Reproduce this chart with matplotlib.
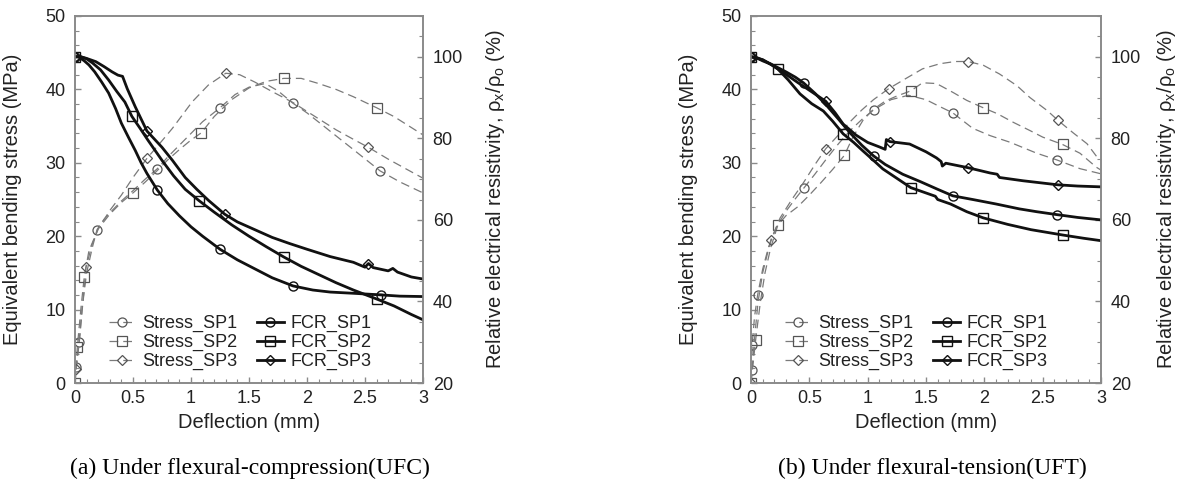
import numpy as np
import matplotlib
matplotlib.use('Agg')
import matplotlib.pyplot as plt
from matplotlib.ticker import MultipleLocator

plt.rcParams['font.family'] = ['Liberation Sans', 'DejaVu Sans']
plt.rcParams['mathtext.default'] = 'regular'

# ---------------- (a) UFC ----------------
# stress (MPa), dashed
ufc_s1_x = [0, 0.01, 0.035, 0.06, 0.1, 0.15, 0.19, 0.25, 0.32, 0.4, 0.5, 0.6, 0.71, 0.8, 0.9, 1.0, 1.1, 1.25, 1.38, 1.5,
            1.64, 1.75, 1.88, 2.0, 2.2, 2.4, 2.63, 2.8, 3.0]
ufc_s1_y = [0, 2.2, 5.6, 10, 15, 18.5, 20.9, 22.3, 23.5, 24.8, 26.2, 27.7, 29.2, 30.8, 32.4, 34, 35.6, 37.5, 39.3, 40.3,
            40.8, 39.8, 38.1, 36.8, 34.3, 31.8, 28.9, 27.4, 25.9]
ufc_s2_x = [0, 0.02, 0.05, 0.08, 0.12, 0.2, 0.3, 0.4, 0.5, 0.6, 0.7, 0.8, 0.9, 1.0, 1.09, 1.2, 1.35, 1.5, 1.65, 1.8,
            1.95, 2.1, 2.25, 2.4, 2.6, 2.75, 2.88, 3.0]
ufc_s2_y = [0, 4.9, 10, 14.5, 18, 21, 23, 24.6, 25.9, 27.3, 28.8, 30.4, 31.8, 33.1, 34.1, 36.3, 38.6, 40.2, 41.1, 41.5,
            41.5, 40.8, 40, 39, 37.5, 36.3, 35, 33.8]
ufc_s3_x = [0, 0.01, 0.04, 0.095, 0.15, 0.2, 0.3, 0.4, 0.5, 0.62, 0.75, 0.84, 1.01, 1.15, 1.3, 1.42, 1.55, 1.7, 1.88, 2.05,
            2.25, 2.4, 2.53, 2.7, 2.85, 3.0]
ufc_s3_y = [0, 1.9, 6, 15.8, 19, 21, 23.5, 25.6, 28, 30.6, 33, 34.7, 38.3, 40.6, 42.2, 42, 41, 39.7, 38.2, 36.5,
            34.5, 33.2, 32.1, 30.5, 29.2, 27.9]
# resistivity (%), solid
ufc_f1_x = [0, 0.03, 0.08, 0.12, 0.17, 0.23, 0.29, 0.35, 0.4, 0.46, 0.52, 0.57, 0.62, 0.71, 0.8, 0.9, 1.0, 1.1, 1.25, 1.4,
            1.55, 1.7, 1.88, 2.05, 2.2, 2.4, 2.64, 2.8, 3.0]
ufc_f1_y = [100, 100, 99, 98, 96.3, 93.8, 91.1, 87.3, 83.7, 80.3, 77, 74, 71.4, 67.3, 64, 61, 58.3, 56, 52.8, 50.2,
            48, 45.8, 43.8, 42.8, 42.3, 42, 41.6, 41.3, 41.2]
ufc_f2_x = [0, 0.05, 0.1, 0.15, 0.22, 0.29, 0.36, 0.43, 0.49, 0.56, 0.63, 0.75, 0.85, 0.95, 1.07, 1.2, 1.35, 1.5, 1.65, 1.8,
            1.95, 2.1, 2.25, 2.4, 2.6, 2.75, 2.9, 3.0]
ufc_f2_y = [100, 100, 99.5, 98.5, 96.8, 94.3, 91.5, 88.9, 85.4, 82.5, 79.5, 74.6, 70.8, 67.5, 64.7, 61.9, 58.8, 56, 53.4, 50.9,
            48.6, 46.6, 44.6, 42.8, 40.6, 38.9, 36.8, 35.5]
ufc_f3_x = [0, 0.05, 0.1, 0.18, 0.25, 0.32, 0.37, 0.41, 0.45, 0.52, 0.62, 0.75, 0.84, 0.95, 1.05, 1.15, 1.29, 1.4, 1.55, 1.7,
            1.85, 2.0, 2.2, 2.4, 2.5, 2.53, 2.57, 2.7, 2.74, 2.78, 2.9, 3.0]
ufc_f3_y = [100, 100, 99.6, 98.8, 97.6, 96.3, 95.5, 95.2, 92.2, 87.7, 81.8, 77.8, 74.6, 70.4, 67.5, 64.8, 61.4, 59.5, 57.6, 55.7,
            54.2, 52.8, 51, 49.6, 48.4, 49.3, 48.3, 47.5, 48.1, 47.2, 46, 45.5]

# ---------------- (b) UFT ----------------
uft_s1_x = [0, 0.005, 0.01, 0.03, 0.057, 0.1, 0.15, 0.22, 0.3, 0.38, 0.45, 0.55, 0.65, 0.75, 0.85, 0.95, 1.05, 1.2, 1.35, 1.5,
            1.6, 1.73, 1.9, 2.05, 2.22, 2.45, 2.62, 2.82, 3.0]
uft_s1_y = [0, 1.8, 5.2, 9, 12, 15.5, 18.5, 21.3, 23.4, 25.1, 26.5, 28.5, 30.6, 32.6, 34.4, 35.9, 37.2, 38.6, 39.2, 38.6,
            37.8, 36.8, 34.7, 33.7, 32.8, 31.3, 30.4, 29.2, 28.5]
uft_s2_x = [0, 0.04, 0.08, 0.12, 0.17, 0.23, 0.3, 0.4, 0.5, 0.6, 0.7, 0.8, 0.87, 0.96, 1.05, 1.15, 1.25, 1.37, 1.47, 1.59,
            1.73, 1.85, 1.99, 2.11, 2.25, 2.39, 2.5, 2.67, 2.82, 2.96, 3.0]
uft_s2_y = [0, 5.9, 11, 15, 18.5, 21.5, 22.8, 24, 25.6, 27.3, 29.1, 31.0, 33.4, 35.8, 37.3, 38.4, 39.1, 39.8, 40.9, 40.8,
            39.6, 38.5, 37.5, 36.7, 35.5, 34.4, 33.5, 32.5, 31.3, 29.4, 29.0]
uft_s3_x = [0, 0.01, 0.03, 0.06, 0.1, 0.17, 0.25, 0.35, 0.45, 0.55, 0.64, 0.75, 0.85, 0.95, 1.05, 1.18, 1.34, 1.47, 1.62, 1.75,
            1.86, 1.99, 2.13, 2.28, 2.39, 2.54, 2.63, 2.76, 2.88, 2.97, 3.0]
uft_s3_y = [0, 2, 6, 11, 15, 19.5, 22.5, 25, 27.3, 29.8, 31.9, 33.8, 35.6, 37.2, 38.6, 40.1, 41.6, 42.8, 43.5, 43.8,
            43.8, 43.3, 42.1, 40.5, 38.9, 37.1, 35.8, 34.1, 32.6, 30.7, 30.4]
uft_f1_x = [0, 0.05, 0.1, 0.2, 0.3, 0.38, 0.45, 0.55, 0.65, 0.75, 0.85, 0.95, 1.05, 1.15, 1.3, 1.45, 1.6, 1.73, 1.9, 2.1,
            2.3, 2.45, 2.62, 2.8, 3.0]
uft_f1_y = [100, 99.8, 99.2, 97.8, 96.3, 95, 93.6, 91, 88, 84.7, 81.3, 78.3, 75.7, 73.6, 71.2, 69.4, 67.5, 65.9, 65, 63.9,
            62.7, 62, 61.3, 60.6, 60]
uft_f2_x = [0, 0.05, 0.1, 0.17, 0.23, 0.32, 0.42, 0.52, 0.62, 0.7, 0.79, 0.88, 0.96, 1.05, 1.13, 1.25, 1.37, 1.5, 1.58, 1.6,
            1.71, 1.85, 1.99, 2.2, 2.4, 2.67, 2.85, 3.0]
uft_f2_y = [100, 99.7, 99, 98.2, 97, 94.3, 90.9, 88.5, 86.7, 84.2, 81.1, 79, 76.9, 74.6, 72.5, 70.2, 67.9, 66.6, 65.8, 65,
            63.9, 62, 60.5, 58.9, 57.6, 56.3, 55.5, 54.9]
uft_f3_x = [0, 0.1, 0.2, 0.3, 0.4, 0.5, 0.64, 0.72, 0.79, 0.9, 1.0, 1.1, 1.15, 1.16, 1.19, 1.36, 1.5, 1.59, 1.63, 1.64,
            1.67, 1.86, 2.05, 2.11, 2.13, 2.33, 2.63, 2.8, 3.0]
uft_f3_y = [100, 99.3, 97.6, 95.7, 93.7, 91.8, 89.1, 86.3, 83.5, 80.8, 79, 77.9, 77.3, 79.7, 79.2, 78.6, 76.7, 75.2, 74.3, 73.2,
            73.9, 72.8, 71.5, 71.2, 70.4, 69.6, 68.6, 68.3, 68.1]

# where the symbols sit along each curve (deflection, mm)
ufc_marks = {
    's1': [0.01, 0.035, 0.19, 0.71, 1.25, 1.88, 2.63],
    's2': [0, 0.02, 0.08, 0.5, 1.09, 1.8, 2.6],
    's3': [0.01, 0.095, 0.62, 1.3, 2.53],
    'f1': [0, 0.71, 1.25, 1.88, 2.64],
    'f2': [0, 0.49, 1.07, 1.8, 2.6],
    'f3': [0, 0.62, 1.29, 2.53],
}
uft_marks = {
    's1': [0.005, 0.01, 0.057, 0.45, 1.05, 1.73, 2.62],
    's2': [0, 0.04, 0.23, 0.8, 1.37, 1.99, 2.67],
    's3': [0, 0.17, 0.64, 1.18, 1.86, 2.63],
    'f1': [0, 0.45, 1.05, 1.73, 2.62],
    'f2': [0, 0.23, 0.79, 1.37, 1.99, 2.67],
    'f3': [0, 0.64, 1.19, 1.86, 2.63],
}

labels = ['Stress_SP1', 'Stress_SP2', 'Stress_SP3', 'FCR_SP1', 'FCR_SP2', 'FCR_SP3']
symbols = ['o', 's', 'D']
msizes = [6.5, 6.5, 5.5]

SPINE = '#8a8a8a'
TXT = '#222222'


def idx(x, at):
    x = np.asarray(x)
    return [int(np.argmin(np.abs(x - a))) for a in at]


def panel(ax, stress, fcr, marks, rlabel_x):
    ax2 = ax.twinx()
    handles = []
    for i, (x, y) in enumerate(stress):
        h, = ax.plot(x, y, color='#7a7a7a', lw=0.9, dashes=(7, 4),
                     marker=symbols[i], ms=msizes[i], mfc='none', mec='#555555', mew=0.9,
                     markevery=idx(x, marks['s%d' % (i + 1)]), label=labels[i])
        handles.append(h)
    for i, (x, y) in enumerate(fcr):
        h, = ax2.plot(x, y, color='#111111', lw=2.0,
                      marker=symbols[i], ms=msizes[i], mfc='none', mec='#111111', mew=1.0,
                      markevery=idx(x, marks['f%d' % (i + 1)]), label=labels[3 + i])
        handles.append(h)

    ax.set_xlim(0, 3)
    ax.set_ylim(0, 50)
    ax2.set_ylim(20, 110)
    ax.xaxis.set_major_locator(MultipleLocator(0.5))
    ax.xaxis.set_minor_locator(MultipleLocator(0.1))
    ax.yaxis.set_major_locator(MultipleLocator(10))
    ax.yaxis.set_minor_locator(MultipleLocator(2))
    ax2.yaxis.set_major_locator(MultipleLocator(20))
    ax2.yaxis.set_minor_locator(MultipleLocator(5))
    ax.set_xticks([0, 0.5, 1, 1.5, 2, 2.5, 3])
    ax.set_xticklabels(['0', '0.5', '1', '1.5', '2', '2.5', '3'])
    ax2.set_yticks([20, 40, 60, 80, 100])

    for a in (ax, ax2):
        for s in a.spines.values():
            s.set_color(SPINE)
            s.set_linewidth(1.2)
    ax.tick_params(which='both', direction='in', color=SPINE, labelcolor=TXT, labelsize=13,
                   top=False, right=False)
    ax.tick_params(which='major', length=4, width=1)
    ax.tick_params(which='minor', length=3, width=0.8)
    ax.tick_params(axis='y', pad=7)
    ax.tick_params(axis='x', pad=5)
    ax2.tick_params(which='both', direction='in', color=SPINE, labelcolor=TXT, labelsize=13, pad=7)
    ax2.tick_params(which='major', length=4, width=1)
    ax2.tick_params(which='minor', length=3, width=0.8)

    ax.set_xlabel('Deflection (mm)', fontsize=14.5, color=TXT, labelpad=4)
    ax.set_ylabel('Equivalent bending stress (MPa)', fontsize=14.5, color=TXT)
    ax.yaxis.set_label_coords(-0.152, 0.5)
    ax2.set_ylabel('Relative electrical resistivity, ρ$_x$/ρ$_o$ (%)', fontsize=14.5, color=TXT,
                   rotation=90)
    ax2.yaxis.set_label_coords(rlabel_x, 0.5)

    ax2.legend(handles, labels, ncol=2, loc='lower left', bbox_to_anchor=(0.06, 0.0),
               frameon=False, fontsize=13, handlelength=1.5, handletextpad=0.35,
               columnspacing=1.1, labelspacing=0.1, borderaxespad=0.3,
               labelcolor=TXT)
    return ax2


fig = plt.figure(figsize=(11.81, 4.84), dpi=100)
ax_a = fig.add_axes([75 / 1181, 101 / 484, 348 / 1181, 367 / 484])
ax_b = fig.add_axes([751 / 1181, 101 / 484, 350 / 1181, 367 / 484])

panel(ax_a,
      [(ufc_s1_x, ufc_s1_y), (ufc_s2_x, ufc_s2_y), (ufc_s3_x, ufc_s3_y)],
      [(ufc_f1_x, ufc_f1_y), (ufc_f2_x, ufc_f2_y), (ufc_f3_x, ufc_f3_y)],
      ufc_marks, 1.175)
panel(ax_b,
      [(uft_s1_x, uft_s1_y), (uft_s2_x, uft_s2_y), (uft_s3_x, uft_s3_y)],
      [(uft_f1_x, uft_f1_y), (uft_f2_x, uft_f2_y), (uft_f3_x, uft_f3_y)],
      uft_marks, 1.155)

fig.text(250 / 1181, 1 - 468 / 484, '(a) Under flexural-compression(UFC)', ha='center', va='center',
         family='Liberation Serif', fontsize=17, color='black')
fig.text(932 / 1181, 1 - 468 / 484, '(b) Under flexural-tension(UFT)', ha='center', va='center',
         family='Liberation Serif', fontsize=17, color='black')

fig.savefig('out.png', dpi=100)
